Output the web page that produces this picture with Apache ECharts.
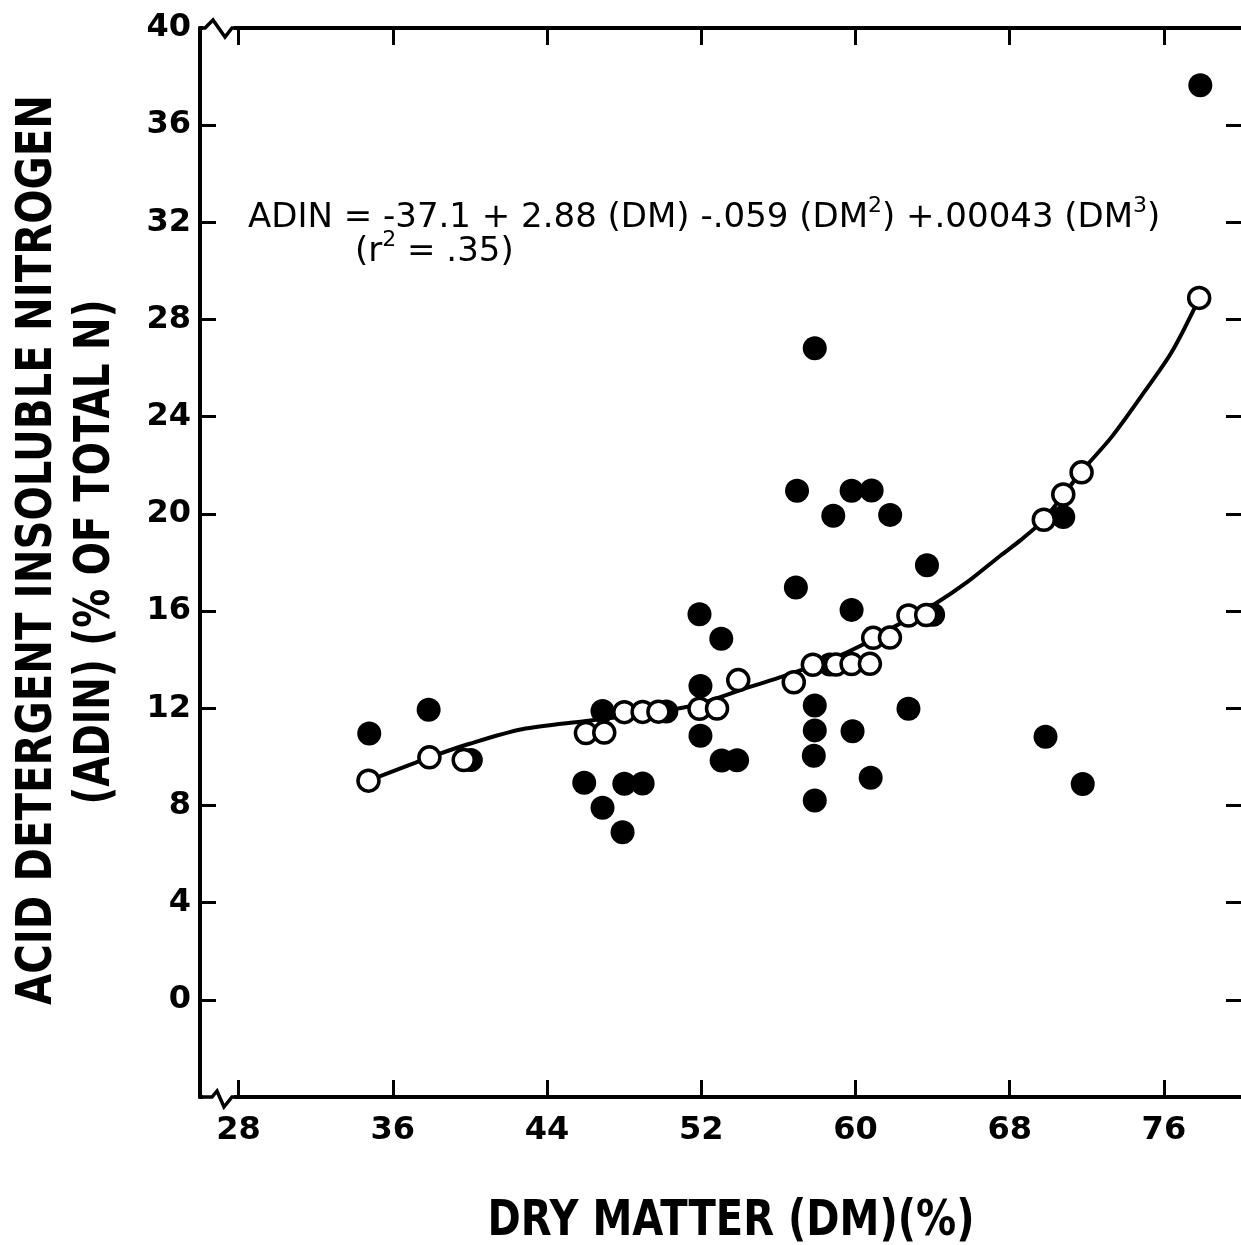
<!DOCTYPE html>
<html>
<head>
<meta charset="utf-8">
<script src="https://cdn.jsdelivr.net/npm/echarts@6/dist/echarts.min.js"></script>
<style>
  html, body { margin: 0; padding: 0; background: #fff; }
  #chart { width: 1241px; height: 1245px; }
</style>
</head>
<body>
<div id="chart"></div>
<script>
// observed values (filled circles)
var dmObserved = [34.78, 37.86, 40.05, 45.93, 46.88, 46.88, 48.01, 47.92, 48.96, 50.19,
  51.91, 51.96, 51.96, 53.04, 53.06, 53.86, 57.89, 56.97, 59.80, 60.84,
  58.85, 61.80, 63.71, 56.91, 59.80, 64.03, 58.67, 57.89, 57.89, 57.84,
  57.89, 59.85, 60.79, 62.75, 77.89, 70.78, 69.86, 71.79];
var adinObserved = [10.96, 11.94, 9.87, 8.93, 11.89, 7.91, 8.89, 6.90, 8.90, 11.87,
  15.87, 12.92, 10.87, 14.86, 9.85, 9.86, 26.82, 20.95, 20.95, 20.96,
  19.92, 19.96, 17.89, 16.97, 16.05, 15.85, 13.80, 12.11, 11.09, 10.05,
  8.20, 11.05, 9.14, 11.98, 37.64, 19.87, 10.83, 8.88];

// predicted values (open circles)
var dmPredicted = [34.74, 37.90, 39.68, 46.02, 46.97, 48.01, 48.96, 49.78, 51.91, 52.82,
  53.92, 56.80, 57.79, 58.99, 59.80, 60.75, 60.92, 61.79, 62.75, 63.67,
  69.77, 70.78, 71.73, 77.83];
var adinPredicted = [9.02, 9.98, 9.87, 10.98, 11.00, 11.84, 11.85, 11.86, 11.98, 11.99,
  13.16, 13.07, 13.79, 13.80, 13.82, 13.83, 14.90, 14.91, 15.82, 15.84,
  19.76, 20.80, 21.71, 28.89];

// fitted curve
var dmCurve = [34.74, 37.92, 39.94, 42.70, 46.03, 49.83, 51.91, 54.52, 56.24, 58.84,
  60.24, 61.28, 62.48, 64.04, 65.81, 67.53, 68.57, 69.77, 71.70, 73.27,
  74.83, 76.39, 77.79];
var adinCurve = [9.02, 9.98, 10.53, 11.14, 11.48, 11.86, 12.18, 12.88, 13.31, 14.05,
  14.56, 15.05, 15.55, 16.25, 17.20, 18.29, 18.92, 19.77, 21.72, 23.15,
  24.85, 26.64, 28.80];

var xTicks = [28, 36, 44, 52, 60, 68, 76];
var yTicks = [0, 4, 8, 12, 16, 20, 24, 28, 32, 36, 40];
var yTicksRight = [0, 4, 8, 12, 16, 20, 24, 28, 32, 36];

var FONT = 'DejaVu Sans';
var GRID = { left: 200, top: 28, right: 0, bottom: 148 };

function pairs(xs, ys) {
  return xs.map(function (x, i) { return [x, ys[i]]; });
}

// fit a title string to its measured length in the reference
var measureCtx = document.createElement('canvas').getContext('2d');
function fitScale(str, size, target) {
  measureCtx.font = 'bold ' + size + 'px "' + FONT + '"';
  return target / measureCtx.measureText(str).width;
}

var yTitle1 = 'ACID DETERGENT INSOLUBLE NITROGEN';
var yTitle2 = '(ADIN) (% OF TOTAL N)';
var xTitle = 'DRY MATTER (DM)(%)';

function titleText(str, x, y, len, rotate) {
  var s = fitScale(str, 50, len);
  return {
    type: 'text', x: x, y: y, rotation: rotate ? Math.PI / 2 : 0,
    scaleX: s, scaleY: 1, z: 100,
    style: {
      text: str, fontSize: 50, fontWeight: 'bold', fontFamily: FONT, fill: '#000',
      align: 'center', verticalAlign: 'middle', textAlign: 'center', textVerticalAlign: 'middle'
    }
  };
}

var axisLine = { onZero: false, lineStyle: { color: '#000', width: 4 } };
var tickStyle = { color: '#000', width: 3 };
var labelStyle = { color: '#000', fontSize: 32, fontWeight: 'bold', fontFamily: FONT };

var eqRich = {
  n: { fontSize: 34, fontFamily: FONT, lineHeight: 40, verticalAlign: 'bottom', fill: '#000' },
  s: { fontSize: 22, fontFamily: FONT, lineHeight: 24, verticalAlign: 'top', fill: '#000' }
};

var chart = echarts.init(document.getElementById('chart'));

var option = {
  animation: false,
  backgroundColor: '#fff',
  grid: GRID,
  xAxis: [{
    type: 'value', min: 26, max: 80, position: 'bottom',
    axisLine: axisLine,
    axisTick: { inside: true, length: 17, lineStyle: tickStyle, customValues: xTicks },
    axisLabel: Object.assign({ customValues: xTicks, margin: 18 }, labelStyle),
    splitLine: { show: false }
  }, {
    type: 'value', min: 26, max: 80, position: 'top',
    axisLine: axisLine,
    axisTick: { inside: true, length: 17, lineStyle: tickStyle, customValues: xTicks },
    axisLabel: { show: false },
    splitLine: { show: false }
  }],
  yAxis: [{
    type: 'value', min: -4, max: 40, position: 'left',
    axisLine: axisLine,
    axisTick: { inside: true, length: 16, lineStyle: tickStyle, customValues: yTicks },
    axisLabel: Object.assign({ customValues: yTicks, margin: 9 }, labelStyle),
    splitLine: { show: false }
  }, {
    type: 'value', min: -4, max: 40, position: 'right',
    axisLine: { show: false, onZero: false },
    axisTick: { show: true, inside: true, length: 15, lineStyle: tickStyle, customValues: yTicksRight },
    axisLabel: { show: false },
    splitLine: { show: false }
  }],
  series: [{
    name: 'observed', type: 'scatter', z: 2,
    symbol: 'circle', symbolSize: 24,
    itemStyle: { color: '#000', opacity: 1 },
    data: pairs(dmObserved, adinObserved)
  }, {
    name: 'fit', type: 'line', z: 3,
    showSymbol: false, smooth: 0.3,
    lineStyle: { color: '#000', width: 4 },
    data: pairs(dmCurve, adinCurve)
  }, {
    name: 'predicted', type: 'scatter', z: 4,
    symbol: 'circle', symbolSize: 21,
    itemStyle: { color: '#fff', borderColor: '#000', borderWidth: 3.5, opacity: 1 },
    data: pairs(dmPredicted, adinPredicted)
  }],
  graphic: [
    // axis break marks at the two left corners
    { type: 'rect', z: 99, shape: { x: 203, y: 23, width: 31, height: 10 }, style: { fill: '#fff' } },
    { type: 'polyline', z: 100, shape: { points: [[200, 28], [205, 28], [213, 20], [225, 37], [232, 28], [236, 28]] },
      style: { stroke: '#000', lineWidth: 3.5, fill: null } },
    { type: 'rect', z: 99, shape: { x: 203, y: 1092, width: 31, height: 10 }, style: { fill: '#fff' } },
    { type: 'polyline', z: 100, shape: { points: [[200, 1097], [212, 1097], [217, 1091], [224, 1107], [232, 1097], [236, 1097]] },
      style: { stroke: '#000', lineWidth: 3.5, fill: null } },
    // regression equation
    {
      type: 'text', x: 248, y: 215, z: 100,
      style: {
        text: '{n|ADIN = -37.1 + 2.88 (DM) -.059 (DM}{s|2}{n|) +.00043 (DM}{s|3}{n|)}',
        align: 'left', verticalAlign: 'middle', textAlign: 'left', textVerticalAlign: 'middle',
        fill: '#000', rich: eqRich
      }
    },
    {
      type: 'text', x: 355, y: 249, z: 100,
      style: {
        text: '{n|(r}{s|2}{n| = .35)}',
        align: 'left', verticalAlign: 'middle', textAlign: 'left', textVerticalAlign: 'middle',
        fill: '#000', rich: eqRich
      }
    },
    titleText(yTitle1, 38, 550, 910, true),
    titleText(yTitle2, 96, 552, 505, true),
    titleText(xTitle, 731, 1222, 487, false)
  ]
};

chart.setOption(option);
</script>
</body>
</html>
